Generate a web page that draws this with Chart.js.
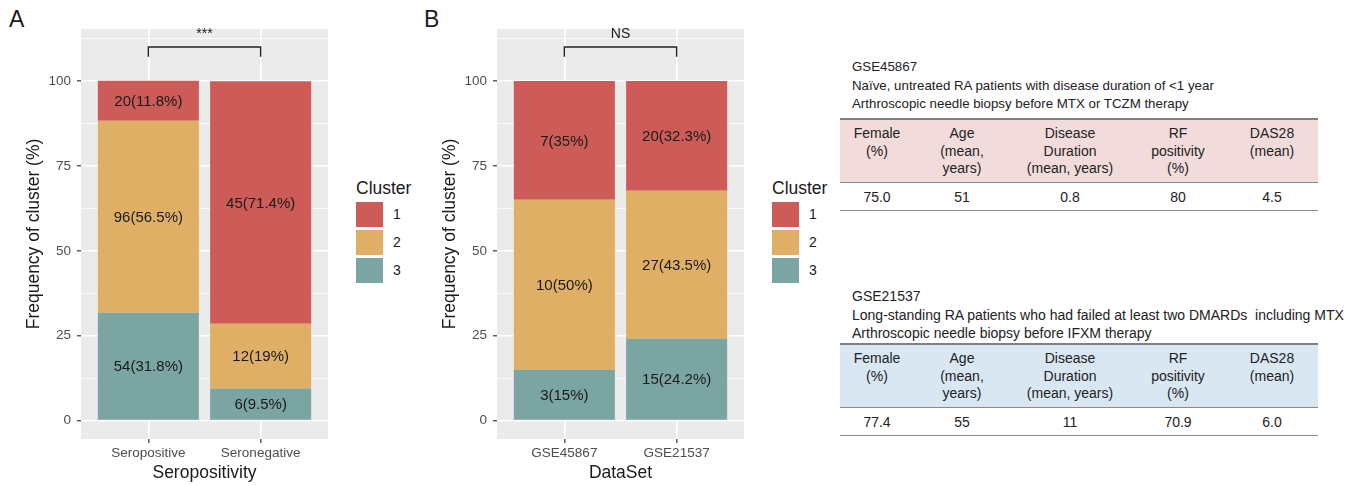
<!DOCTYPE html>
<html>
<head>
<meta charset="utf-8">
<script src="https://cdn.jsdelivr.net/npm/chart.js@4.4.1/dist/chart.umd.min.js"></script>
<style>
  body { margin: 0; background: #fff; font-family: "Liberation Sans", Arial, sans-serif; color: #1a1a1a; }
  #page { position: relative; width: 1371px; height: 485px; overflow: hidden; }
  canvas { position: absolute; top: 0; }
  .panel-tag { position: absolute; top: 6px; font-size: 23px; }
  .legend { position: absolute; top: 176px; }
  .legend .title { font-size: 17.5px; height: 24px; line-height: 24px; }
  .legend .row { display: flex; align-items: center; height: 28px; }
  .legend .key { width: 27px; height: 25px; margin: 1.5px 0; }
  .legend .lab { font-size: 14px; margin-left: 10px; }
  .info { position: absolute; left: 852px; font-size: 14px; line-height: 18.5px; color: #222; }
  .tbl { position: absolute; left: 840px; width: 478px; border-collapse: collapse; table-layout: fixed; font-size: 14px; color: #222; }
  .tbl th { font-weight: normal; vertical-align: top; padding: 5px 0 0 0; line-height: 17.5px; height: 57px; border-top: 2px solid #808080; border-bottom: 1.5px solid #8a8a8a; }
  .tbl td { text-align: center; height: 27px; padding: 0; border-bottom: 1.5px solid #8a8a8a; }
</style>
</head>
<body>
<div id="page">
  <div class="panel-tag" style="left:9px">A</div>
  <div class="panel-tag" style="left:424px">B</div>
  <canvas id="chartA" width="340" height="485" style="left:0"></canvas>
  <canvas id="chartB" width="340" height="485" style="left:420px"></canvas>
  <div class="legend" id="legendA" style="left:356px"></div>
  <div class="legend" id="legendB" style="left:772px"></div>

  <div class="info" style="top:58px; font-size:13.3px">GSE45867<br>Naïve, untreated RA patients with disease duration of &lt;1 year<br>Arthroscopic needle biopsy before MTX or TCZM therapy</div>
  <table class="tbl" id="tbl1" style="top:118px"></table>

  <div class="info" style="top:287px">GSE21537<br>Long-standing RA patients who had failed at least two DMARDs&nbsp; including MTX<br>Arthroscopic needle biopsy before IFXM therapy</div>
  <table class="tbl" id="tbl2" style="top:343px"></table>
</div>

<script>
// cluster legend
const clusters = ["1", "2", "3"];
const clusterColors = ["#CD5B58", "#E0AF66", "#7BA5A2"];

// panel A: seropositivity
const seroCategories = ["Seropositive", "Seronegative"];
const seroCount1 = [20, 45];
const seroPct1 = [11.8, 71.4];
const seroCount2 = [96, 12];
const seroPct2 = [56.5, 19];
const seroCount3 = [54, 6];
const seroPct3 = [31.8, 9.5];

// panel B: data sets
const dsCategories = ["GSE45867", "GSE21537"];
const dsCount1 = [7, 20];
const dsPct1 = [35, 32.3];
const dsCount2 = [10, 27];
const dsPct2 = [50, 43.5];
const dsCount3 = [3, 15];
const dsPct3 = [15, 24.2];

// y axis
const yMin = -5.4;
const yMax = 115.3;
const yMajorStep = 25;

// significance brackets (in y units)
const bracketTop = 110;
const bracketTip = 107.1;
const sigLabelY = 113.8;

// tables
const tableHeaders = ["Female<br>(%)", "Age<br>(mean,<br>years)", "Disease<br>Duration<br>(mean, years)", "RF<br>positivity<br>(%)", "DAS28<br>(mean)"];
const colWidths = [74, 96, 120, 96, 92];
const gse45867Row = ["75.0", "51", "0.8", "80", "4.5"];
const gse21537Row = ["77.4", "55", "11", "70.9", "6.0"];

const fontFam = '"Liberation Sans", Arial, sans-serif';

const panelBg = {
  id: "panelBg",
  beforeDraw(chart) {
    const a = chart.chartArea;
    const c = chart.ctx;
    c.save();
    c.fillStyle = "#EBEBEB";
    c.fillRect(a.left, a.top, a.right - a.left, a.bottom - a.top);
    c.restore();
  }
};

const segLabels = {
  id: "segLabels",
  afterDatasetsDraw(chart) {
    const c = chart.ctx;
    c.save();
    c.font = "15px " + fontFam;
    c.fillStyle = "#1a1a1a";
    c.textAlign = "center";
    c.textBaseline = "middle";
    chart.data.datasets.forEach((ds, d) => {
      chart.getDatasetMeta(d).data.forEach((bar, i) => {
        const txt = ds.counts[i] + "(" + ds.data[i].y + "%)";
        c.fillText(txt, bar.x, (bar.y + bar.base) / 2 + 1);
      });
    });
    c.restore();
  }
};

const sigBracket = {
  id: "sigBracket",
  afterDraw(chart) {
    const c = chart.ctx;
    const x = chart.scales.x, y = chart.scales.y;
    const x0 = x.getPixelForValue(0), x1 = x.getPixelForValue(1);
    const yt = y.getPixelForValue(bracketTop), yb = y.getPixelForValue(bracketTip);
    c.save();
    c.strokeStyle = "#222";
    c.lineWidth = 1.4;
    c.beginPath();
    c.moveTo(x0, yb); c.lineTo(x0, yt); c.lineTo(x1, yt); c.lineTo(x1, yb);
    c.stroke();
    c.font = "14px " + fontFam;
    c.fillStyle = "#1a1a1a";
    c.textAlign = "center";
    c.textBaseline = "middle";
    c.fillText(chart.options.sigText, (x0 + x1) / 2, y.getPixelForValue(sigLabelY));
    c.restore();
  }
};

function makeChart(id, categories, counts, pcts, xTitle, sigText, axisW, padRight) {
  // stack bottom to top: cluster 3, 2, 1
  const order = [2, 1, 0];
  const datasets = order.map(k => ({
    label: clusters[k],
    data: pcts[k].map((p, i) => ({ x: i, y: p })),
    counts: counts[k],
    backgroundColor: clusterColors[k],
    borderWidth: 0,
    barPercentage: 0.9,
    categoryPercentage: 1
  }));

  new Chart(document.getElementById(id), {
    type: "bar",
    data: { datasets },
    plugins: [panelBg, segLabels, sigBracket],
    options: {
      responsive: false,
      animation: false,
      devicePixelRatio: 1,
      sigText: sigText,
      layout: { padding: { top: 29, right: padRight, left: 0, bottom: 0 } },
      plugins: { legend: { display: false }, tooltip: { enabled: false } },
      scales: {
        x: {
          type: "linear",
          stacked: true,
          min: -0.6,
          max: 1.6,
          offset: false,
          afterBuildTicks: s => { s.ticks = categories.map((c, i) => ({ value: i })); },
          afterFit: s => { s.height = 46; },
          border: { display: false },
          grid: { offset: false, color: "#fff", lineWidth: 1.6, tickColor: "#333", tickLength: 4, tickWidth: 1.2 },
          ticks: {
            callback: v => categories[v],
            autoSkip: false, maxRotation: 0, padding: 2,
            color: "#4d4d4d", font: { family: fontFam, size: 13.5 }
          },
          title: {
            display: true, text: xTitle, color: "#1a1a1a",
            font: { family: fontFam, size: 17.5 }, padding: { top: 0, bottom: 1.5 }
          }
        },
        y: {
          stacked: true,
          min: yMin,
          max: yMax,
          afterFit: s => { s.width = axisW; },
          border: { display: false },
          grid: {
            color: "#fff",
            lineWidth: c => (c.tick && c.tick.value % yMajorStep === 0 ? 1.6 : 0.8),
            tickColor: c => (c.tick && c.tick.value % yMajorStep === 0 ? "#333" : "rgba(0,0,0,0)"),
            tickLength: 4, tickWidth: 1.2
          },
          ticks: {
            stepSize: yMajorStep / 2,
            includeBounds: false,
            autoSkip: false,
            padding: 6,
            callback: v => (v % yMajorStep === 0 ? v : ""),
            color: "#4d4d4d", font: { family: fontFam, size: 13.5 }
          },
          title: {
            display: true, text: "Frequency of cluster (%)", color: "#1a1a1a",
            font: { family: fontFam, size: 17.5 }, padding: { top: axisW - 57, bottom: 0 }
          }
        }
      }
    }
  });
}

function makeLegend(id) {
  let html = '<div class="title">Cluster</div>';
  clusters.forEach((c, i) => {
    html += '<div class="row"><div class="key" style="background:' + clusterColors[i] + '"></div><span class="lab">' + c + '</span></div>';
  });
  document.getElementById(id).innerHTML = html;
}

function makeTable(id, row, bg) {
  let html = "<colgroup>" + colWidths.map(w => '<col style="width:' + w + 'px">').join("") + "</colgroup>";
  html += '<tr style="background:' + bg + '">' + tableHeaders.map(h => "<th>" + h + "</th>").join("") + "</tr>";
  html += "<tr>" + row.map(v => "<td>" + v + "</td>").join("") + "</tr>";
  document.getElementById(id).innerHTML = html;
}

makeChart("chartA", seroCategories, [seroCount1, seroCount2, seroCount3], [seroPct1, seroPct2, seroPct3],
  "Seropositivity", "***", 81, 12);
makeChart("chartB", dsCategories, [dsCount1, dsCount2, dsCount3], [dsPct1, dsPct2, dsPct3],
  "DataSet", "NS", 77, 16);
makeLegend("legendA");
makeLegend("legendB");
makeTable("tbl1", gse45867Row, "#F2DCDB");
makeTable("tbl2", gse21537Row, "#D9E7F3");
</script>
</body>
</html>
